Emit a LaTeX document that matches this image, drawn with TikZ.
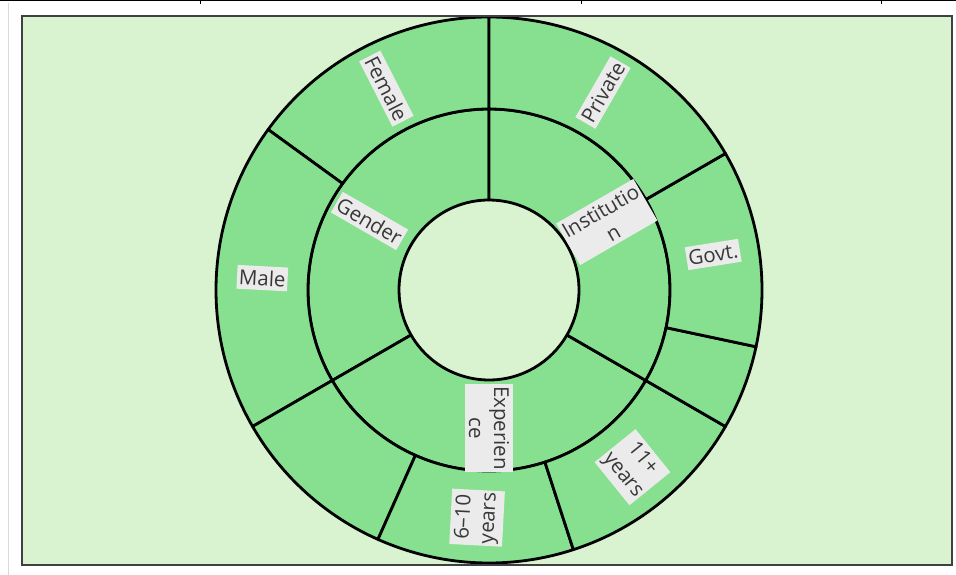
\documentclass[tikz,border=0pt]{standalone}
\usepackage{fontspec}
\setmainfont{Open Sans}
\usetikzlibrary{positioning}
\definecolor{bggreen}{HTML}{D9F2D0}
\definecolor{ringgreen}{HTML}{86E08F}
\definecolor{lblgray}{HTML}{EBEBEB}
\definecolor{lbltext}{HTML}{383838}
\tikzset{
  ring/.style={fill=ringgreen, draw=black, line width=2.8pt, line join=round},
  lbl/.style={fill=lblgray, text=lbltext, font=\fontsize{20.5}{25}\selectfont,
    inner xsep=2pt, inner ysep=4pt, align=center}
}

\begin{document}
\begin{tikzpicture}[x=1pt, y=1pt]
  \useasboundingbox (0,0) rectangle (956,575);
  % Frame
  \draw[black, line width=1.5pt] (0,574.3) -- (956,574.3);
  \foreach \x in {200,581,881} \draw[black, line width=1pt] (\x,575) -- (\x,571);
  \draw[black!15, line width=1pt] (8,572) -- (8,0);
  \fill[bggreen] (22,10) rectangle (952,559);
  \coordinate (c) at (489,285);

  \begin{scope}
    \clip (22,10) rectangle (952,559);
    % Inner ring
    \foreach \a/\b in {90/210, 210/330, 330/450}
      \draw[ring] ([shift={(\a:90)}]c) arc (\a:\b:90)
        -- ([shift={(\b:181)}]c) arc (\b:\a:181) -- cycle;
    % Outer ring
    \foreach \a/\b in {90/144, 144/210, 210/246, 246/288, 288/330, 330/348, 348/390, 390/450}
      \draw[ring] ([shift={(\a:181)}]c) arc (\a:\b:181)
        -- ([shift={(\b:273)}]c) arc (\b:\a:273) -- cycle;
  \end{scope}
  \draw[black!75, line width=1.6pt] (22,10) rectangle (952,559);

  % Inner labels
  \node[lbl, rotate=-30] (gender) at ([shift={(150:138)}]c) {Gender};
  \node[lbl, rotate=30] (institution) at ([shift={(30:136)}]c) {Institutio\\n};
  \node[lbl, rotate=-90] (experience) at ([shift={(270:138)}]c) {Experien\\ce};

  % Outer labels
  \node[lbl, rotate=-63] (female) at ([shift={(117:226)}]c) {Female};
  \node[lbl, rotate=-3] (male) at ([shift={(177:227)}]c) {Male};
  \node[lbl, rotate=60] (private) at ([shift={(60:228)}]c) {Private};
  \node[lbl, rotate=9] (govt) at ([shift={(9:227)}]c) {Govt.};
  \node[lbl, rotate=-51] (highyrs) at ([shift={(309:228)}]c) {11+\\years};
  \node[lbl, rotate=87] (midyrs) at ([shift={(267:228)}]c) {6--10\\years};
\end{tikzpicture}
\end{document}
